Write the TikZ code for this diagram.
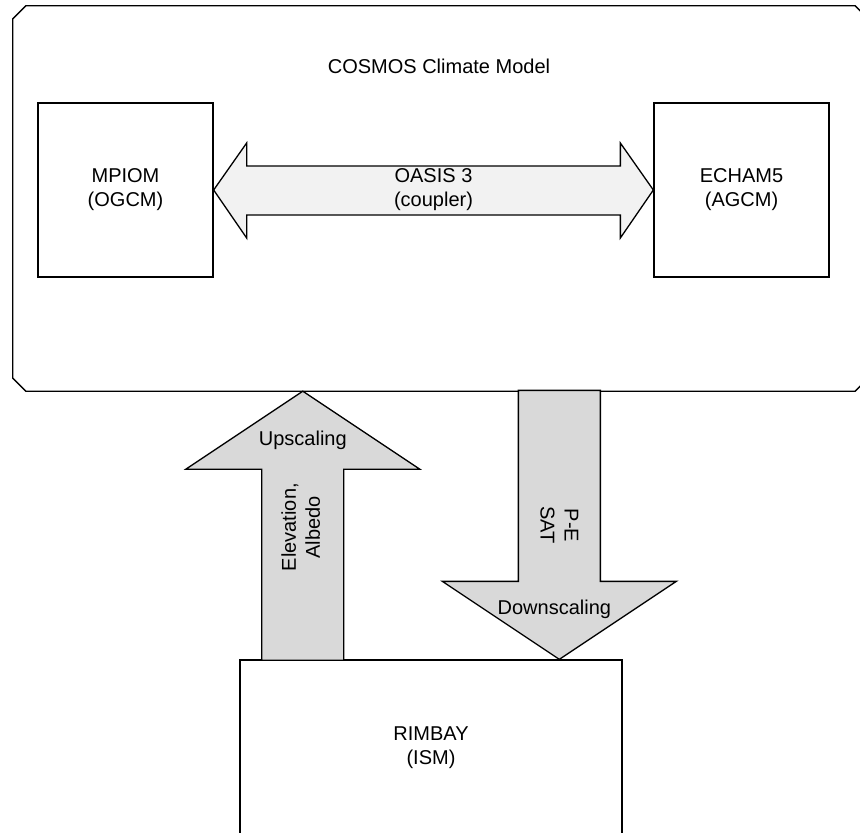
\documentclass[tikz,border=0pt]{standalone}
\usepackage{fontspec}
\setmainfont{Liberation Sans}
\usetikzlibrary{calc}

\tikzset{
  box/.style={draw, line width=1.3pt, fill=white, inner sep=0pt, align=center},
  lbl/.style={align=center, inner sep=0pt},
  coupler/.style={draw, line width=1.3pt, fill=gray!10},
  flux/.style={draw, line width=1.3pt, fill=gray!30},
}

\begin{document}
\begin{tikzpicture}[x=1pt, y=-1pt, font=\fontsize{20}{24}\selectfont]
  \clip (0,0) rectangle (860,833);

  % the climate model frame
  \node[minimum width=855pt, minimum height=385pt, inner sep=0pt] (cosmos) at (440.5,198.5) {};
  \draw[line width=1.3pt]
    ($(cosmos.north west)+(13,0)$) -- ($(cosmos.north east)+(-13,0)$)
    -- ($(cosmos.north east)+(0,13)$) -- ($(cosmos.south east)+(0,-13)$)
    -- ($(cosmos.south east)+(-13,0)$) -- ($(cosmos.south west)+(13,0)$)
    -- ($(cosmos.south west)+(0,-13)$) -- ($(cosmos.north west)+(0,13)$) -- cycle;
  \node[lbl] (title) at (439,66) {COSMOS Climate Model};

  % components
  \node[box, minimum width=175pt, minimum height=174pt] (mpiom) at (125.5,190) {MPIOM\\(OGCM)};
  \node[box, minimum width=175pt, minimum height=174pt] (echam) at (741.5,190) {ECHAM5\\(AGCM)};
  \node[box, minimum width=382pt, minimum height=176pt] (rimbay) at (431,748) {RIMBAY\\(ISM)};

  % coupler
  \draw[coupler] (mpiom.east) -- ++(33,-47) -- ++(0,23)
    -- ($(echam.west)+(-33,-24)$) -- ++(0,-23) -- (echam.west)
    -- ++(-33,48) -- ++(0,-23) -- ($(mpiom.east)+(33,25)$) -- ++(0,23) -- cycle;
  \node[lbl] (oasis) at ($(mpiom.east)!0.5!(echam.west)$) {OASIS 3\\(coupler)};

  % ice sheet <-> climate model
  \coordinate (up-tip) at ($(cosmos.south west)+(290,0)$);
  \coordinate (dn-tip) at ($(rimbay.north west)+(320,0)$);

  \draw[flux] (up-tip) -- ++(117,78) -- ++(-76,0) -- ++(0,191)
    -- ++(-82,0) -- ++(0,-191) -- ++(-76,0) -- cycle;
  \draw[flux] (dn-tip) -- ++(-117,-78) -- ++(76,0) -- ++(0,-191)
    -- ++(82,0) -- ++(0,191) -- ++(76,0) -- cycle;

  \node[lbl] (up-lbl) at ($(up-tip)+(0,49)$) {Upscaling};
  \node[lbl, rotate=90] (up-vars) at ($(up-tip)+(-2,136)$) {Elevation,\\Albedo};
  \node[lbl] (dn-lbl) at ($(dn-tip)+(-5,-50)$) {Downscaling};
  \node[lbl, rotate=-90] (dn-vars) at ($(dn-tip)+(0,-134)$) {P-E\\SAT};
\end{tikzpicture}
\end{document}
